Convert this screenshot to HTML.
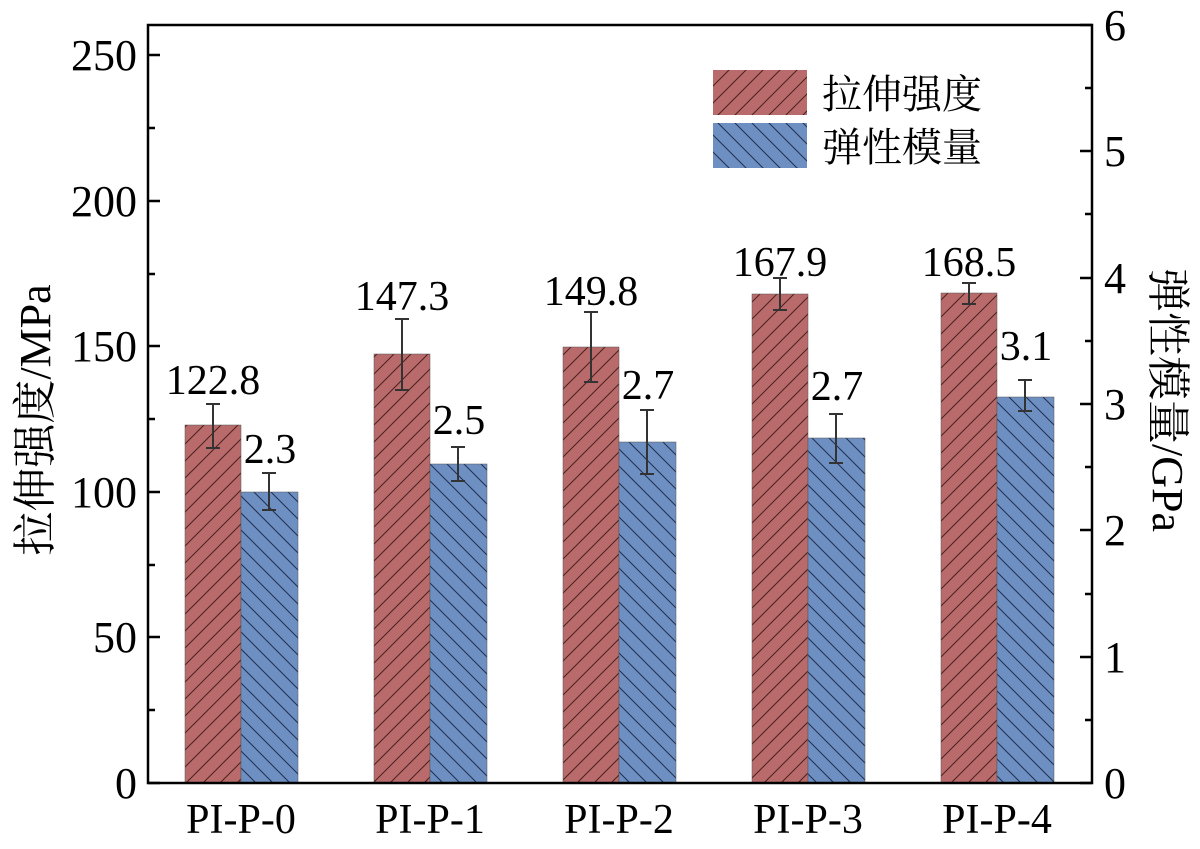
<!DOCTYPE html>
<html><head><meta charset="utf-8"><style>body{margin:0;background:#fff}</style></head><body>
<svg width="1200" height="844" viewBox="0 0 1200 844" xmlns="http://www.w3.org/2000/svg" font-family="Liberation Serif, Noto Serif CJK SC, serif">
<defs>
<pattern id="pr" patternUnits="userSpaceOnUse" width="17" height="17">
<rect width="17" height="17" fill="#b96b6b"/><path d="M-2,19 L19,-2 M-4,4 L4,-4 M13,21 L21,13" stroke="#4a2020" stroke-width="1"/></pattern>
<pattern id="pb" patternUnits="userSpaceOnUse" width="17" height="17">
<rect width="17" height="17" fill="#6e8fc2"/><path d="M-2,-2 L19,19 M-4,13 L4,21 M13,-4 L21,4" stroke="#1f2f50" stroke-width="1"/></pattern>
</defs>
<g stroke="#555" stroke-width="0.5">
<rect x="185" y="425" width="56" height="358" fill="url(#pr)"/>
<rect x="241" y="492" width="57" height="291" fill="url(#pb)"/>
<rect x="374" y="354" width="56" height="429" fill="url(#pr)"/>
<rect x="430" y="464" width="57" height="319" fill="url(#pb)"/>
<rect x="563" y="347" width="56" height="436" fill="url(#pr)"/>
<rect x="619" y="442" width="57" height="341" fill="url(#pb)"/>
<rect x="752" y="294" width="56" height="489" fill="url(#pr)"/>
<rect x="808" y="438" width="57" height="345" fill="url(#pb)"/>
<rect x="941" y="293" width="56" height="490" fill="url(#pr)"/>
<rect x="997" y="397" width="57" height="386" fill="url(#pb)"/>
</g>
<g stroke="#333" stroke-width="2" fill="none">
<path d="M213,404V448M206,404H220M206,448H220"/>
<path d="M269,473V510M262,473H276M262,510H276"/>
<path d="M402,319V390M395,319H409M395,390H409"/>
<path d="M458,447V481M451,447H465M451,481H465"/>
<path d="M591,312V382M584,312H598M584,382H598"/>
<path d="M647,410V474M640,410H654M640,474H654"/>
<path d="M780,278V310M773,278H787M773,310H787"/>
<path d="M836,414V463M829,414H843M829,463H843"/>
<path d="M969,283V304M962,283H976M962,304H976"/>
<path d="M1025,380V411M1018,380H1032M1018,411H1032"/>
</g>
<g font-size="42" text-anchor="middle" fill="#000">
<text x="213" y="394">122.8</text><text x="270" y="463">2.3</text>
<text x="402" y="310">147.3</text><text x="459" y="434">2.5</text>
<text x="591" y="305">149.8</text><text x="648" y="399">2.7</text>
<text x="780" y="276">167.9</text><text x="837" y="400">2.7</text>
<text x="969" y="276">168.5</text><text x="1026" y="360">3.1</text>
</g>
<rect x="148" y="25" width="944" height="758" fill="none" stroke="#000" stroke-width="2.5"/>
<g stroke="#000" stroke-width="2.5">
<path d="M148,783h12M148,637h12M148,492h12M148,346h12M148,201h12M148,55h12"/>
<path d="M148,710h7M148,565h7M148,419h7M148,274h7M148,128h7"/>
<path d="M1092,783h-12M1092,657h-12M1092,530h-12M1092,404h-12M1092,278h-12M1092,151h-12M1092,25h-12"/>
<path d="M1092,720h-7M1092,594h-7M1092,467h-7M1092,341h-7M1092,214h-7M1092,88h-7"/>
</g>
<g font-size="44" text-anchor="end">
<text x="137" y="798">0</text><text x="137" y="652">50</text><text x="137" y="507">100</text><text x="137" y="361">150</text><text x="137" y="216">200</text><text x="137" y="70">250</text>
</g>
<g font-size="44">
<text x="1104" y="798">0</text><text x="1104" y="672">1</text><text x="1104" y="545">2</text><text x="1104" y="419">3</text><text x="1104" y="293">4</text><text x="1104" y="166">5</text><text x="1104" y="40">6</text>
</g>
<g font-size="42" text-anchor="middle">
<text x="241" y="833">PI-P-0</text><text x="430" y="833">PI-P-1</text><text x="619" y="833">PI-P-2</text><text x="808" y="833">PI-P-3</text><text x="997" y="833">PI-P-4</text>
</g>
<text transform="translate(50,420) rotate(-90)" font-size="44" text-anchor="middle">拉伸强度/MPa</text>
<text transform="translate(1153,400) rotate(90)" font-size="44" text-anchor="middle">弹性模量/GPa</text>
<rect x="713" y="70" width="94" height="45" fill="url(#pr)"/>
<rect x="713" y="123" width="94" height="45" fill="url(#pb)"/>
<text x="822" y="108" font-size="40">拉伸强度</text>
<text x="822" y="161" font-size="40">弹性模量</text>
</svg>
</body></html>
